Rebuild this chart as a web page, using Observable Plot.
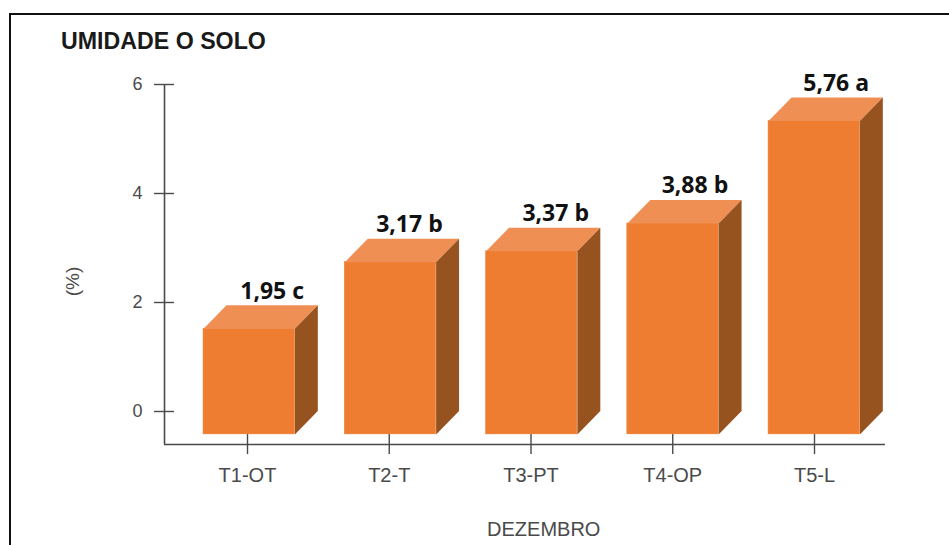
<!DOCTYPE html>
<html><head><meta charset="utf-8">
<script src="https://cdn.jsdelivr.net/npm/d3@7"></script>
<script src="https://cdn.jsdelivr.net/npm/@observablehq/plot@0.6"></script>
<style>
html,body{margin:0;padding:0;background:#fff;overflow:hidden}
#wrap{position:relative;width:949px;height:545px}
#frame{position:absolute;left:9px;top:13px;width:945px;height:540px;border-left:2px solid #111;border-top:2px solid #111;box-sizing:border-box}
#title{position:absolute;left:61px;top:27px;font:bold 23.2px/28px "Liberation Sans",sans-serif;color:#1a1a1a}
svg{display:block}
</style></head><body>
<div id="wrap"><div id="frame"></div><div id="title">UMIDADE O SOLO</div><div id="chart"></div></div>
<script>
const categories = ["T1-OT","T2-T","T3-PT","T4-OP","T5-L"];
const values = [1.95,3.17,3.37,3.88,5.76];
const letters = ["c","b","b","b","a"];
const yTicks = [0,2,4,6];

// bar shape in data units
const base = -0.42, depthY = 0.43, depthX = 0.162, halfW = 0.322, spread = 0.9965, shift = 0.012;
const bars = categories.map((c,i)=>{
  const v = values[i], m = i*spread+shift;
  return {c,i,v,m,l:m-halfW,r:m+halfW,front:v-depthY,label:`${String(v).replace(".",",")} ${letters[i]}`};
});
const top_ = bars.flatMap(b=>[[b.l,b.front],[b.l+depthX,b.v],[b.r+depthX,b.v],[b.r,b.front]].map(([x,y])=>({id:b.c,x,y})));
const side = bars.flatMap(b=>[[b.r,base],[b.r+depthX,base+depthY],[b.r+depthX,b.v],[b.r,b.front]].map(([x,y])=>({id:b.c,x,y})));
const labelDx = [0,-4,1,-1,-1];

const axisX0 = -0.5855, axisY0 = -0.606;
const grey = "#4a4a4a";
const font = "Liberation Sans";
const chart = Plot.plot({
  width:949,height:545,
  marginLeft:164,marginBottom:101,marginTop:84,marginRight:0,
  style:{background:"transparent"},
  x:{type:"linear",domain:[0,4],range:[247,814]},
  y:{type:"linear",domain:[0,6],range:[411,84]},
  marks:[
    Plot.ruleX([axisX0],{y1:axisY0,y2:6,stroke:grey,strokeWidth:1.6}),
    Plot.ruleY([axisY0],{x1:axisX0,x2:4.5,stroke:grey,strokeWidth:1.6}),
    Plot.ruleY(yTicks,{x1:-0.656,x2:-0.515,stroke:grey,strokeWidth:1.4}),
    Plot.ruleX(categories.map((_,i)=>i),{y1:-0.42,y2:-0.79,stroke:grey,strokeWidth:1.4}),
    Plot.axisY({ticks:yTicks,tickSize:0,tickPadding:22,label:null,fontSize:18,color:grey,fontFamily:font,tickFormat:d=>String(d)}),
    Plot.axisX({ticks:categories.map((_,i)=>i),tickSize:0,tickPadding:23,label:null,fontSize:20,color:grey,fontFamily:font,tickFormat:i=>categories[i]}),
    Plot.rect(bars,{x1:"l",x2:"r",y1:()=>base,y2:"front",fill:"#EE7D31",stroke:"#EE7D31",strokeWidth:0.5}),
    Plot.line(top_,{x:"x",y:"y",z:"id",fill:"#EF8F54",stroke:"none",curve:"linear"}),
    Plot.line(side,{x:"x",y:"y",z:"id",fill:"#96521F",stroke:"none",curve:"linear"}),
    ...bars.map((b,i)=>Plot.text([b],{x:d=>d.m+depthX,y:"v",text:"label",dx:labelDx[i],dy:-14,fontSize:23,fontWeight:700,fontFamily:"Open Sans",fill:"#111"})),
    Plot.text(["(%)"],{x:-1.2346,y:2.385,text:d=>d,rotate:-90,fontSize:19,fontFamily:font,fill:grey}),
    Plot.text(["DEZEMBRO"],{x:2.09,y:-2.16,text:d=>d,fontSize:20,fontFamily:font,fill:grey})
  ]
});
document.getElementById("chart").append(chart);
</script></body></html>
